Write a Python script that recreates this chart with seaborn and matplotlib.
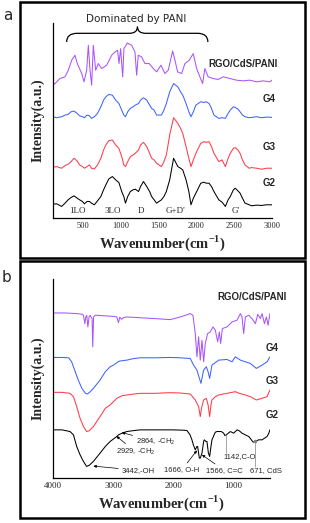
import matplotlib
matplotlib.use('Agg')
import matplotlib.pyplot as plt
from matplotlib.patches import Rectangle, PathPatch
from matplotlib.path import Path
import seaborn as sns

# ---- panel a : Raman ----
raman_wn = [100, 148, 214, 260, 300, 340, 378, 420, 452, 490, 517, 550, 582, 610, 648,
            690, 734, 770, 800, 840, 886, 930, 973, 1010, 1038, 1060, 1090, 1125, 1160, 1190,
            1234, 1260, 1299, 1342, 1380, 1407, 1440, 1472, 1537, 1570, 1602, 1646, 1698, 1754, 1790,
            1819, 1863, 1900, 1928, 1960, 1993, 2058, 2100, 2130, 2167, 2200, 2232, 2297, 2340, 2384,
            2420, 2449, 2490, 2514, 2550, 2579, 2610, 2644, 2700, 2731, 2800, 2861, 2930, 3000]
raman_g2 = [0.42, 0.43, 0.35, 0.45, 0.55, 0.62, 0.67, 0.6, 0.55, 0.5, 0.43, 0.5, 0.5, 0.45, 0.4,
            0.52, 0.65, 0.85, 1.0, 1.18, 1.25, 1.15, 1.07, 0.8, 0.65, 0.45, 0.65, 0.8, 0.85, 0.87,
            0.8, 0.95, 1.1, 0.95, 0.8, 0.65, 0.55, 0.45, 0.55, 0.65, 0.8, 1.15, 1.8, 1.55, 1.5,
            1.45, 1.15, 0.8, 0.4, 0.6, 0.75, 1.05, 1.08, 1.05, 1.05, 0.95, 0.8, 0.55, 0.48, 0.35,
            0.55, 0.65, 0.85, 0.9, 0.82, 0.75, 0.6, 0.45, 0.4, 0.37, 0.39, 0.38, 0.4, 0.4]
raman_g3 = [1.53, 1.55, 1.5, 1.58, 1.62, 1.7, 1.8, 1.72, 1.6, 1.55, 1.5, 1.55, 1.6, 1.5, 1.48,
            1.6, 1.8, 2.05, 2.2, 2.33, 2.35, 2.2, 2.1, 1.85, 1.6, 1.55, 1.7, 1.85, 1.9, 1.95,
            2.05, 2.2, 2.28, 2.15, 1.95, 1.8, 1.75, 1.65, 1.55, 1.7, 1.9, 2.5, 3.02, 2.85, 2.7,
            2.55, 2.15, 1.8, 1.55, 1.75, 1.95, 2.25, 2.3, 2.28, 2.3, 2.15, 1.95, 1.7, 1.75, 1.55,
            1.8, 1.95, 2.1, 2.12, 2.05, 1.95, 1.75, 1.6, 1.5, 1.52, 1.5, 1.47, 1.5, 1.5]
raman_g4 = [3.05, 3.02, 3.05, 3.1, 3.12, 3.2, 3.22, 3.15, 3.08, 3.05, 3.02, 3.1, 3.08, 3.0, 3.05,
            3.15, 3.35, 3.55, 3.65, 3.72, 3.7, 3.55, 3.45, 3.25, 3.1, 3.05, 3.2, 3.3, 3.35, 3.4,
            3.45, 3.55, 3.62, 3.55, 3.4, 3.3, 3.25, 3.1, 3.1, 3.25, 3.45, 3.8, 4.05, 3.95, 3.8,
            3.7, 3.45, 3.2, 3.05, 3.2, 3.4, 3.5, 3.48, 3.5, 3.45, 3.3, 3.1, 3.0, 3.02, 3.0,
            3.15, 3.25, 3.35, 3.33, 3.28, 3.2, 3.1, 3.05, 3.02, 3.03, 3.05, 3.02, 3.04, 3.03]
raman_wn_pani = [100, 126, 193, 259, 303, 347, 391, 422, 480, 511, 546, 568, 590, 612, 634,
                 665, 700, 744, 811, 877, 921, 956, 974, 996, 1023, 1040, 1084, 1142, 1186, 1208,
                 1230, 1274, 1318, 1375, 1428, 1473, 1530, 1583, 1627, 1685, 1716, 1751, 1804, 1848, 1905,
                 1958, 2003, 2046, 2082, 2112, 2156, 2222, 2288, 2355, 2444, 2532, 2620, 2708, 2797, 2885,
                 2973, 3000]
raman_pani = [4.0, 4.05, 4.2, 4.25, 4.45, 4.75, 4.9, 4.65, 4.35, 4.1, 4.45, 5.2, 4.45, 4.0, 5.2,
              4.45, 4.65, 4.5, 4.6, 4.9, 5.0, 5.05, 4.65, 5.1, 4.25, 5.1, 5.27, 5.2, 5.0, 4.3,
              4.9, 4.85, 4.65, 4.65, 4.5, 4.4, 4.6, 4.35, 4.45, 5.03, 4.75, 4.4, 4.35, 4.65, 4.75,
              4.95, 4.5, 4.25, 4.05, 4.5, 4.25, 4.2, 4.17, 4.25, 4.2, 4.15, 4.13, 4.15, 4.1, 4.13,
              4.1, 4.15]
raman_bands = ['1LO', '3LO', 'D', "G+D'", "G'"]
raman_band_wn = [422, 886, 1264, 1724, 2522]

# ---- panel b : FTIR ----
ftir_wn_g2 = [3978, 3850, 3717, 3660, 3606, 3550, 3494, 3442, 3400, 3328, 3217, 3130, 3050, 2939, 2911,
              2850, 2772, 2650, 2550, 2300, 2000, 1828, 1772, 1720, 1689, 1666, 1633, 1606, 1594, 1566,
              1550, 1522, 1494, 1483, 1455, 1439, 1415, 1394, 1372, 1356, 1300, 1272, 1200, 1161, 1142,
              1117, 1050, 994, 939, 900, 856, 744, 700, 671, 633, 580, 522, 439, 410, 392]
ftir_g2 = [1.45, 1.45, 1.4, 1.3, 0.95, 0.7, 0.5, 0.35, 0.38, 0.5, 0.75, 0.95, 1.1, 1.25, 1.3,
           1.35, 1.4, 1.43, 1.45, 1.45, 1.45, 1.44, 1.43, 1.3, 1.15, 1.0, 0.85, 0.95, 0.95, 0.6,
           0.6, 0.75, 1.1, 1.15, 1.1, 1.1, 0.75, 0.65, 0.95, 1.15, 1.38, 1.4, 1.4, 1.35, 1.28,
           1.3, 1.4, 1.35, 1.45, 1.42, 1.35, 1.25, 1.15, 1.08, 1.1, 1.15, 1.15, 1.25, 1.35, 1.45]
ftir_wn_g3 = [3978, 3850, 3717, 3660, 3606, 3550, 3494, 3442, 3400, 3328, 3217, 3130, 3050, 2994, 2939,
              2850, 2772, 2650, 2550, 2300, 2050, 1883, 1717, 1633, 1578, 1550, 1530, 1494, 1450, 1420,
              1394, 1372, 1356, 1300, 1244, 1106, 967, 900, 800, 717, 617, 522, 439, 392]
ftir_g3 = [2.58, 2.58, 2.55, 2.45, 2.15, 1.8, 1.55, 1.4, 1.42, 1.55, 1.85, 2.1, 2.2, 2.3, 2.4,
           2.48, 2.5, 2.53, 2.55, 2.55, 2.57, 2.56, 2.53, 2.35, 2.15, 1.85, 2.1, 2.35, 2.4, 2.2,
           1.85, 2.2, 2.35, 2.45, 2.5, 2.55, 2.6, 2.55, 2.5, 2.45, 2.35, 2.4, 2.45, 2.65]
ftir_wn_g4 = [3996, 3990, 3978, 3850, 3740, 3690, 3640, 3580, 3520, 3460, 3428, 3380, 3328, 3217, 3130,
              3050, 2994, 2900, 2772, 2650, 2550, 2300, 2050, 1883, 1717, 1661, 1606, 1539, 1494, 1450,
              1420, 1394, 1356, 1244, 1106, 1022, 967, 883, 717, 617, 522, 439, 392]
ftir_g4 = [3.25, 3.65, 3.63, 3.63, 3.62, 3.5, 3.25, 2.95, 2.7, 2.55, 2.53, 2.6, 2.7, 2.95, 3.2,
           3.35, 3.4, 3.52, 3.55, 3.6, 3.62, 3.62, 3.63, 3.62, 3.6, 3.4, 3.25, 2.85, 3.25, 3.35,
           3.2, 3.0, 3.4, 3.55, 3.57, 3.5, 3.65, 3.55, 3.45, 3.3, 3.4, 3.5, 3.65]
ftir_wn_pani = [3978, 3800, 3600, 3517, 3494, 3470, 3455, 3439, 3420, 3400, 3383, 3350, 3339, 3325, 3300,
                3272, 3100, 2960, 2939, 2911, 2890, 2860, 2828, 2772, 2300, 2050, 1883, 1717, 1672, 1633,
                1606, 1578, 1550, 1522, 1494, 1467, 1428, 1383, 1339, 1300, 1261, 1233, 1211, 1183, 1106,
                1022, 939, 883, 856, 828, 800, 744, 689, 633, 594, 550, 522, 483, 450, 422, 392]
ftir_pani = [4.97, 4.97, 4.95, 4.93, 4.9, 4.65, 4.85, 4.9, 4.55, 4.85, 4.9, 4.8, 3.95, 4.85, 4.9,
             4.9, 4.88, 4.86, 4.85, 4.68, 4.84, 4.78, 4.83, 4.85, 4.8, 4.77, 4.85, 4.95, 4.9, 4.35,
             3.65, 4.25, 3.55, 4.15, 3.5, 4.05, 4.35, 4.4, 4.55, 4.45, 4.1, 4.4, 4.05, 4.5, 4.55,
             4.7, 4.75, 4.95, 4.85, 4.35, 4.85, 4.9, 4.8, 4.65, 4.93, 4.8, 4.95, 4.65, 4.85, 4.6, 4.95]

purple = '#a855ff'
blue = '#3f63ff'
red = '#ff3b4a'

sns.set_style('white')
plt.rcParams['font.family'] = ['Liberation Serif', 'DejaVu Serif']
plt.rcParams['mathtext.fontset'] = 'custom'
plt.rcParams['mathtext.rm'] = 'Liberation Serif:bold'
plt.rcParams['mathtext.sf'] = 'Liberation Sans'

fig = plt.figure(figsize=(3.10, 5.23), dpi=100)
ax_a = fig.add_axes([0.171, 0.583, 0.706, 0.373])
ax_b = fig.add_axes([0.171, 0.086, 0.70, 0.381])

lw = 0.75
sns.lineplot(x=raman_wn, y=raman_g2, ax=ax_a, color='black', lw=lw, sort=False, estimator=None)
sns.lineplot(x=raman_wn, y=raman_g3, ax=ax_a, color=red, lw=lw, sort=False, estimator=None)
sns.lineplot(x=raman_wn, y=raman_g4, ax=ax_a, color=blue, lw=lw, sort=False, estimator=None)
sns.lineplot(x=raman_wn_pani, y=raman_pani, ax=ax_a, color=purple, lw=lw, sort=False, estimator=None)

sns.lineplot(x=ftir_wn_g2, y=ftir_g2, ax=ax_b, color='black', lw=lw, sort=False, estimator=None)
sns.lineplot(x=ftir_wn_g3, y=ftir_g3, ax=ax_b, color=red, lw=lw, sort=False, estimator=None)
sns.lineplot(x=ftir_wn_g4, y=ftir_g4, ax=ax_b, color=blue, lw=lw, sort=False, estimator=None)
sns.lineplot(x=ftir_wn_pani, y=ftir_pani, ax=ax_b, color=purple, lw=lw, sort=False, estimator=None)

ax_a.set_xlim(100, 3000)
ax_a.set_ylim(0, 5.87)
ax_a.set_xticks([500, 1000, 1500, 2000, 2500, 3000])
ax_b.set_xlim(4000, 390)
ax_b.set_ylim(0, 6.0)
ax_b.set_xticks([4000, 3000, 2000, 1000])

for ax, fs in [(ax_a, 6), (ax_b, 6.5)]:
    ax.set_yticks([])
    ax.tick_params(axis='x', length=0, labelsize=fs, pad=3)
    sns.despine(ax=ax)
    for s in ['left', 'bottom']:
        ax.spines[s].set_linewidth(0.9)
        ax.spines[s].set_color('black')
    ax.set_ylabel('Intensity(a.u.)', fontsize=10, fontweight='bold', labelpad=6)
    ax.set_xlabel('Wavenumber(cm$^{-1}$)', fontsize=10.5, fontweight='bold', labelpad=2)

# panel a labels
for name, xv in zip(raman_bands, raman_band_wn):
    ax_a.text(xv, 0.22, name, ha='center', va='center', fontsize=6.5)
side = dict(ha='right', va='center', fontsize=7, fontweight='bold', family='Liberation Sans')
ax_a.text(3080, 4.65, 'RGO/CdS/PANI', **side)
ax_a.text(3055, 3.57, 'G4', **side)
ax_a.text(3055, 2.15, 'G3', **side)
ax_a.text(3055, 1.07, 'G2', **side)
ax_a.text(1200, 6.0, 'Dominated by PANI', ha='center', va='center', fontsize=7.5, family='DejaVu Sans')

# curly brace above the PANI region
brace = Path([(281, 5.3), (281, 5.56), (420, 5.56), (1110, 5.56), (1219, 5.56), (1219, 5.76),
              (1219, 5.56), (1328, 5.56), (2015, 5.56), (2152, 5.56), (2152, 5.3)],
             [Path.MOVETO, Path.CURVE3, Path.CURVE3, Path.LINETO, Path.CURVE3, Path.CURVE3,
              Path.CURVE3, Path.CURVE3, Path.LINETO, Path.CURVE3, Path.CURVE3])
ax_a.add_patch(PathPatch(brace, fill=False, lw=0.9, color='black', clip_on=False))

# panel b labels
ax_b.text(106, 5.45, 'RGO/CdS/PANI', **side)
ax_b.text(250, 3.93, 'G4', **side)
ax_b.text(250, 2.92, 'G3', **side)
ax_b.text(250, 1.9, 'G2', **side)

ann = dict(fontsize=5.5, family='Liberation Sans', va='center')
arrow = dict(arrowstyle='-|>', lw=0.5, color='black', mutation_scale=4, shrinkA=0, shrinkB=0)
ax_b.annotate('2864, -CH$_\\mathsf{2}$', xy=(2856, 1.37), xytext=(2620, 1.1), ha='left',
              arrowprops=arrow, **ann)
ax_b.annotate('2929, -CH$_\\mathsf{2}$', xy=(2945, 1.26), xytext=(2950, 0.78), ha='left',
              arrowprops=arrow, **ann)
ax_b.annotate('3442,-OH', xy=(3328, 0.36), xytext=(2860, 0.23), ha='left',
              arrowprops=arrow, **ann)
ax_b.annotate('1666, O-H', xy=(1606, 0.83), xytext=(1856, 0.25), ha='center',
              arrowprops=arrow, **ann)
ax_b.annotate('1566, C=C', xy=(1522, 0.7), xytext=(1144, 0.22), ha='center',
              arrowprops=arrow, **ann)
# vertical marker lines for 1142 and 671 bands
line = dict(arrowstyle='-', lw=0.5, color='gray', shrinkA=0, shrinkB=0)
ax_b.annotate('', xy=(1117, 1.3), xytext=(1117, 0.74), arrowprops=line)
ax_b.text(1172, 0.65, '1142,C-O', ha='left', **ann)
ax_b.annotate('', xy=(633, 1.1), xytext=(633, 0.33), arrowprops=line)
ax_b.plot([633], [1.1], marker='o', ms=1.5, color='gray')
ax_b.text(717, 0.23, '671, CdS', ha='left', **ann)

# panel frames and letters
for y0, h in [(0.5067, 0.4895), (0.0096, 0.4914)]:
    fig.patches.append(Rectangle((0.0645, y0), 0.920, h, transform=fig.transFigure,
                                 fill=False, lw=1.8, edgecolor='black'))
fig.text(0.026, 0.971, 'a', fontsize=11, family='DejaVu Sans', ha='center', va='center')
fig.text(0.020, 0.470, 'b', fontsize=11, family='DejaVu Sans', ha='center', va='center')

plt.savefig('out.png', dpi=100)
